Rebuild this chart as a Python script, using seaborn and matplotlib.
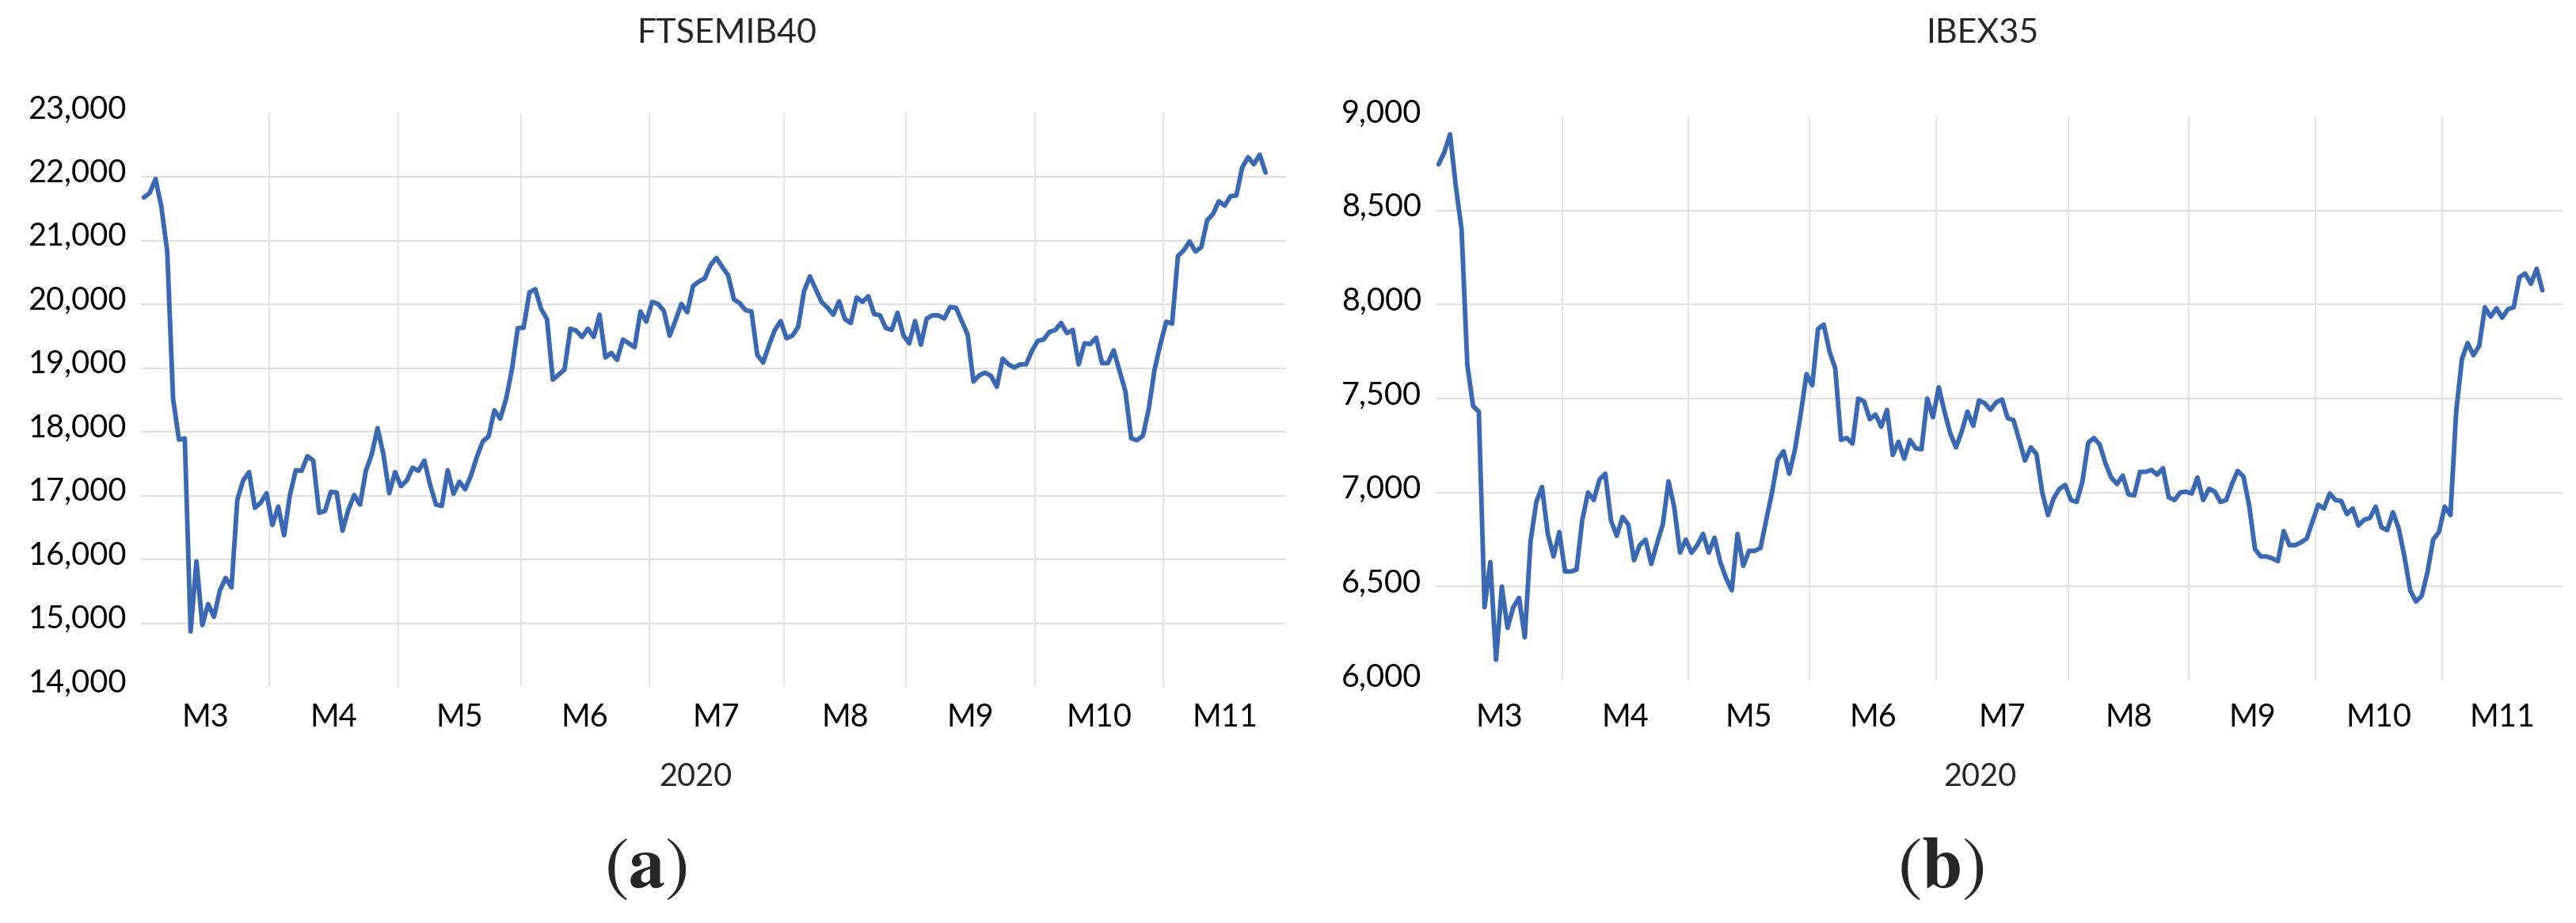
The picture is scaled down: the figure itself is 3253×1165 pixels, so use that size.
import numpy as np
import pandas as pd
import matplotlib
matplotlib.use("Agg")
import matplotlib.pyplot as plt
import matplotlib.transforms as mtransforms
import seaborn as sns
from matplotlib.ticker import StrMethodFormatter

# ── data (daily closes, 2020) ───────────────────────────────
months = ["M3", "M4", "M5", "M6", "M7", "M8", "M9", "M10", "M11"]
month_days = [22, 22, 21, 22, 23, 21, 22, 22, 21]   # trading days per month slot

ftse = [
    # M3
    21680, 21750, 21970, 21530, 20830, 18520, 17880, 17900, 14870, 15970, 14970,
    15300, 15100, 15510, 15710, 15560, 16940, 17240, 17370, 16810, 16890, 17040,
    # M4
    16540, 16830, 16380, 17010, 17400, 17390, 17620, 17550, 16730, 16760, 17060,
    17050, 16450, 16780, 17010, 16860, 17390, 17650, 18060, 17650, 17040, 17370,
    # M5
    17150, 17240, 17440, 17390, 17550, 17170, 16860, 16840, 17400, 17030, 17220,
    17100, 17320, 17610, 17850, 17930, 18340, 18210, 18520, 18980, 19630,
    # M6
    19635, 20190, 20240, 19930, 19770, 18820, 18900, 18980, 19620, 19590, 19490,
    19620, 19490, 19840, 19170, 19240, 19130, 19450, 19390, 19330, 19890, 19730,
    # M7
    20040, 20010, 19900, 19510, 19750, 20010, 19880, 20290, 20360, 20410, 20620,
    20730, 20590, 20460, 20080, 20020, 19910, 19890, 19210, 19090, 19360, 19600, 19740,
    # M8
    19470, 19510, 19650, 20210, 20440, 20240, 20040, 19950, 19840, 20050, 19770,
    19710, 20110, 20040, 20130, 19850, 19830, 19630, 19600, 19870, 19520,
    # M9
    19390, 19740, 19370, 19780, 19830, 19830, 19780, 19960, 19950, 19740, 19530,
    18790, 18890, 18930, 18880, 18710, 19150, 19060, 19010, 19060, 19060, 19270,
    # M10
    19430, 19450, 19570, 19600, 19710, 19550, 19600, 19060, 19390, 19380, 19480,
    19080, 19080, 19280, 18960, 18640, 17900, 17870, 17940, 18360, 18980, 19380,
    # M11
    19730, 19700, 20760, 20850, 20990, 20830, 20900, 21320, 21420, 21620, 21550,
    21700, 21710, 22150, 22310, 22200, 22350, 22070,
]

ibex = [
    # M3
    8745, 8810, 8905, 8630, 8400, 7680, 7460, 7430, 6390, 6630, 6110,
    6500, 6280, 6390, 6440, 6230, 6740, 6950, 7030, 6780, 6660, 6790,
    # M4
    6580, 6580, 6590, 6855, 7000, 6960, 7070, 7100, 6850, 6770, 6870,
    6830, 6640, 6720, 6750, 6620, 6730, 6830, 7060, 6920, 6680, 6750,
    # M5
    6680, 6720, 6780, 6680, 6760, 6630, 6545, 6480, 6780, 6610, 6690,
    6690, 6705, 6855, 7000, 7175, 7220, 7100, 7230, 7420, 7630,
    # M6
    7570, 7870, 7893, 7750, 7660, 7280, 7290, 7260, 7500, 7485, 7390,
    7415, 7350, 7440, 7200, 7270, 7180, 7280, 7235, 7230, 7500, 7400,
    # M7
    7560, 7430, 7315, 7240, 7325, 7430, 7355, 7490, 7475, 7440, 7480,
    7495, 7395, 7385, 7280, 7170, 7240, 7205, 7000, 6880, 6970, 7020, 7040,
    # M8
    6960, 6950, 7060, 7265, 7290, 7255, 7155, 7080, 7045, 7090, 6990,
    6985, 7110, 7110, 7120, 7095, 7130, 6975, 6960, 7000, 7005,
    # M9
    6995, 7080, 6960, 7020, 7005, 6950, 6960, 7045, 7115, 7085, 6930,
    6700, 6660, 6660, 6650, 6635, 6795, 6720, 6720, 6735, 6755, 6845,
    # M10
    6935, 6915, 6995, 6960, 6955, 6885, 6915, 6825, 6855, 6865, 6925,
    6815, 6800, 6895, 6810, 6660, 6480, 6420, 6450, 6575, 6750, 6790,
    # M11
    6925, 6880, 7430, 7710, 7795, 7730, 7780, 7985, 7935, 7980, 7930,
    7975, 7985, 8145, 8165, 8110, 8190, 8075,
]

ftse_ticks = [14000, 15000, 16000, 17000, 18000, 19000, 20000, 21000, 22000, 23000]
ibex_ticks = [6000, 6500, 7000, 7500, 8000, 8500, 9000]

# ── style ───────────────────────────────────────────────────
sns.set_theme(style="white")
plt.rcParams["font.family"] = ["Lato", "DejaVu Sans"]
plt.rcParams["mathtext.fontset"] = "stix"

LINE = "#3A68B2"
GRID = "#E0E0E0"
FS = 28.5

W, H = 3253, 1165
fig = plt.figure(figsize=(W / 100, H / 100), dpi=100)

n_slots = sum(month_days)
ends = np.cumsum(month_days)
bounds = ends[:-1] - 0.5
centers = ends - np.array(month_days) / 2 - 0.5


def draw_panel(ax, values, ticks, label_shift_px, month_pad):
    df = pd.DataFrame({"day": np.arange(len(values)), "value": values})
    sns.lineplot(data=df, x="day", y="value", ax=ax, color=LINE, lw=4.2,
                 solid_joinstyle="round", solid_capstyle="round")

    ax.set_xlim(-0.5, n_slots - 0.5)
    ax.set_ylim(ticks[0], ticks[-1])
    ax.set_yticks(ticks)
    ax.yaxis.set_major_formatter(StrMethodFormatter("{x:,.0f}"))

    # month separators as major ticks, month names as minor ticks
    ax.set_xticks(bounds)
    ax.set_xticklabels([""] * len(bounds))
    ax.set_xticks(centers, minor=True)
    ax.set_xticklabels(months, minor=True)

    ax.set_axisbelow(True)
    ax.grid(axis="y", color=GRID, lw=1.6)
    ax.grid(axis="x", which="major", color=GRID, lw=1.2)
    ax.grid(axis="x", which="minor", visible=False)
    gl = ax.get_ygridlines()
    gl[0].set_visible(False)
    gl[-1].set_visible(False)

    ax.tick_params(axis="both", which="both", length=0, labelsize=FS, colors="black")
    ax.tick_params(axis="y", pad=13)
    ax.tick_params(axis="x", which="minor", pad=month_pad)
    for lab in ax.get_yticklabels():
        lab.set_transform(lab.get_transform() +
                          mtransforms.ScaledTranslation(0, label_shift_px / 100, fig.dpi_scale_trans))

    for s in ax.spines.values():
        s.set_visible(False)
    ax.set_xlabel("")
    ax.set_ylabel("")


ax_l = fig.add_axes([178 / W, 1 - 867 / H, 1446 / W, 724 / H])
draw_panel(ax_l, ftse, ftse_ticks, 9, 14.5)

ax_r = fig.add_axes([1813 / W, 1 - 859 / H, 1423 / W, 712 / H])
draw_panel(ax_r, ibex, ibex_ticks, 8, 20)

# titles, year labels and panel letters
fig.text(918 / W, 1 - 42 / H, "FTSEMIB40", ha="center", va="center", fontsize=31)
fig.text(2503 / W, 1 - 42 / H, "IBEX35", ha="center", va="center", fontsize=31)
fig.text(878 / W, 1 - 980 / H, "2020", ha="center", va="center", fontsize=FS)
fig.text(2500 / W, 1 - 980 / H, "2020", ha="center", va="center", fontsize=FS)
fig.text(815 / W, 1 - 1097 / H, r"$(\mathbf{a})$", ha="center", va="center", fontsize=66)
fig.text(2451 / W, 1 - 1097 / H, r"$(\mathbf{b})$", ha="center", va="center", fontsize=66)

fig.savefig("out.png", dpi=100, facecolor="white")
